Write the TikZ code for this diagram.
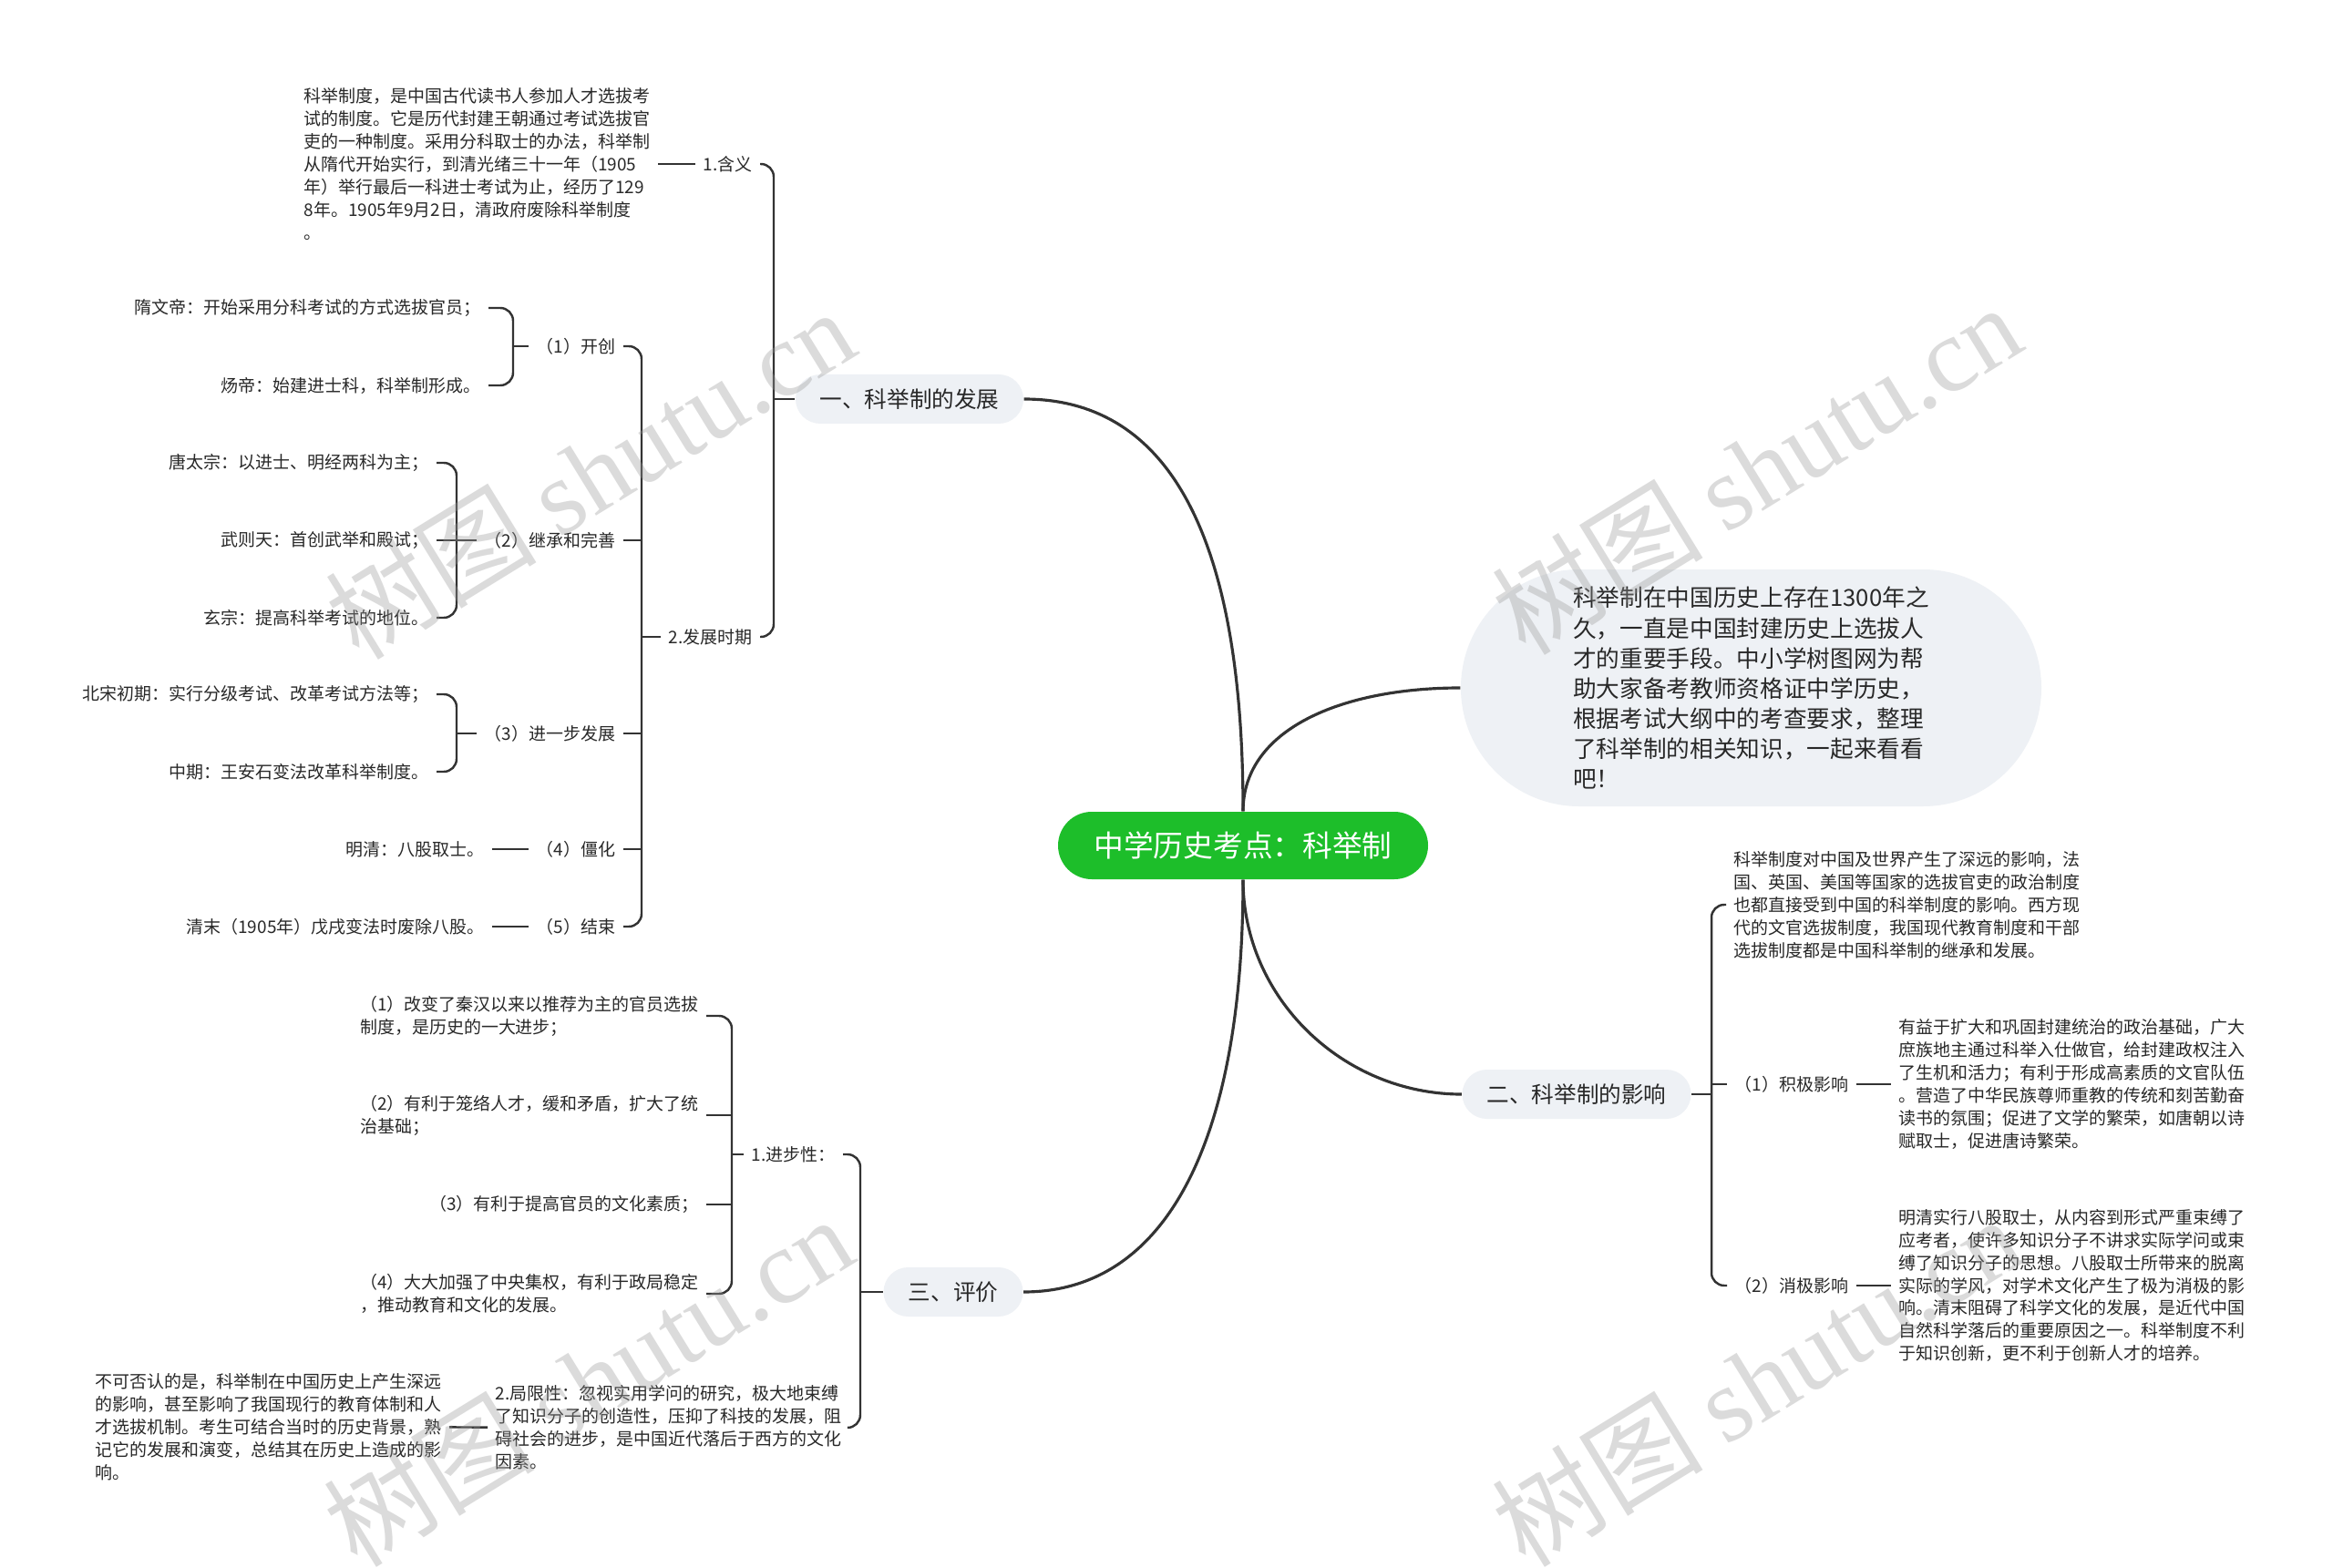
\documentclass[tikz,border=0pt]{standalone}
\usepackage{fontspec}
\setmainfont{Noto Sans CJK SC}
\newfontfamily\wmfont{Liberation Serif}
\usepackage{tikz}
\usetikzlibrary{positioning,calc}
\usepackage{xcolor}
\definecolor{rootgreen}{RGB}{29, 190, 42}
\definecolor{branchgray}{RGB}{238, 241, 245}
\definecolor{linegray}{RGB}{51, 51, 51}
\definecolor{textgray}{RGB}{40, 40, 40}

\tikzset{
    root/.style={fill=rootgreen, text=white, rounded corners=0.37cm, minimum width=4.06cm, minimum height=0.74cm, font=\fontsize{9.3}{11}\selectfont},
    branch/.style={fill=branchgray, text=textgray, rounded corners=0.27cm, minimum height=0.54cm, font=\fontsize{7}{8.5}\selectfont},
    summary/.style={fill=branchgray, text=textgray, rounded corners=1.3cm, minimum width=6.37cm, minimum height=2.6cm, align=left, font=\fontsize{7.3}{9.4}\selectfont},
    leaf/.style={text=textgray, align=left, inner sep=0.08cm, font=\fontsize{5.4}{7.1}\selectfont},
    trunk/.style={draw=linegray, line width=0.9pt},
    brk/.style={draw=linegray, line width=0.7pt, rounded corners=4pt},
    wm/.style={text=black!40, text opacity=0.35, rotate=31.6, font=\fontsize{33}{33}\selectfont}
}

\begin{document}
\begin{tikzpicture}
    % page
    \fill[white] (0,0) rectangle (25.6,-17.21);
    \useasboundingbox (0,0) rectangle (25.6,-17.21);

    % centre and main branches
    \node[root] (root) at (13.64,-9.28) {中学历史考点：科举制};
    \node[branch, minimum width=2.50cm] (b1) at (9.98,-4.38) {一、科举制的发展};
    \node[branch, minimum width=2.51cm] (b2) at (17.30,-12.01) {二、科举制的影响};
    \node[branch, minimum width=1.53cm] (b3) at (10.46,-14.18) {三、评价};
    \node[summary] (sum) at (19.215,-7.55) {科举制在中国历史上存在1300年之\\久，一直是中国封建历史上选拔人\\才的重要手段。中小学树图网为帮\\助大家备考教师资格证中学历史，\\根据考试大纲中的考查要求，整理\\了科举制的相关知识，一起来看看\\吧！};

    \draw[trunk] (root.north) .. controls +(0,3.0) and +(1.6,0) .. (b1.east);
    \draw[trunk] (root.north) .. controls +(0,0.9) and +(-1.3,0) .. (sum.west);
    \draw[trunk] (root.south) .. controls +(0,-1.3) and +(-1.3,0) .. (b2.west);
    \draw[trunk] (root.south) .. controls +(0,-2.8) and +(1.6,0) .. (b3.east);

    % 一 : 1.含义 and 2.发展时期
    \node[leaf, anchor=east] (h1) at (8.34,-1.80) {1.含义};
    \node[leaf, anchor=east] (h2) at (8.34,-6.99) {2.发展时期};
    \coordinate (k1) at (8.49,-4.38);
    \draw[brk] (h1.east) -| (k1) |- (h2.east);
    \draw[brk] (k1) -- (b1.west);

    \node[leaf, anchor=east] (t0) at (7.22,-1.80) {科举制度，是中国古代读书人参加人才选拔考\\试的制度。它是历代封建王朝通过考试选拔官\\吏的一种制度。采用分科取士的办法，科举制\\从隋代开始实行，到清光绪三十一年（1905\\年）举行最后一科进士考试为止，经历了129\\8年。1905年9月2日，清政府废除科举制度\\。};
    \draw[brk] (t0) -- (h1);

    % 2.发展时期 : five stages
    \node[leaf, anchor=east] (p1) at (6.84,-3.80) {（1）开创};
    \node[leaf, anchor=east] (p2) at (6.84,-5.93) {（2）继承和完善};
    \node[leaf, anchor=east] (p3) at (6.84,-8.05) {（3）进一步发展};
    \node[leaf, anchor=east] (p4) at (6.84,-9.32) {（4）僵化};
    \node[leaf, anchor=east] (p5) at (6.84,-10.17) {（5）结束};
    \coordinate (k2) at (7.04,-6.99);
    \draw[brk] (p1.east) -| (k2) |- (p5.east);
    \draw[brk] (p2.east) -- (p2.east -| k2);
    \draw[brk] (p3.east) -- (p3.east -| k2);
    \draw[brk] (p4.east) -- (p4.east -| k2);
    \draw[brk] (k2) -- (h2.west);

    % (1) 开创
    \node[leaf, anchor=east] (a1) at (5.36,-3.38) {隋文帝：开始采用分科考试的方式选拔官员；};
    \node[leaf, anchor=east] (a2) at (5.36,-4.23) {炀帝：始建进士科，科举制形成。};
    \coordinate (k3) at (5.63,-3.80);
    \draw[brk] (a1.east) -| (k3) |- (a2.east);
    \draw[brk] (k3) -- (p1.west);

    % (2) 继承和完善
    \node[leaf, anchor=east] (a3) at (4.79,-5.08) {唐太宗：以进士、明经两科为主；};
    \node[leaf, anchor=east] (a4) at (4.79,-5.93) {武则天：首创武举和殿试；};
    \node[leaf, anchor=east] (a5) at (4.79,-6.78) {玄宗：提高科举考试的地位。};
    \coordinate (k4) at (5.01,-5.93);
    \draw[brk] (a3.east) -| (k4) |- (a5.east);
    \draw[brk] (a4.east) -- (p2.west);

    % (3) 进一步发展
    \node[leaf, anchor=east] (a6) at (4.79,-7.62) {北宋初期：实行分级考试、改革考试方法等；};
    \node[leaf, anchor=east] (a7) at (4.79,-8.47) {中期：王安石变法改革科举制度。};
    \coordinate (k5) at (5.01,-8.05);
    \draw[brk] (a6.east) -| (k5) |- (a7.east);
    \draw[brk] (k5) -- (p3.west);

    % (4) 僵化 and (5) 结束
    \node[leaf, anchor=east] (a8) at (5.40,-9.32) {明清：八股取士。};
    \node[leaf, anchor=east] (a9) at (5.40,-10.17) {清末（1905年）戊戌变法时废除八股。};
    \draw[brk] (a8) -- (p4);
    \draw[brk] (a9) -- (p5);

    % 三 : 评价
    \node[leaf, anchor=east] (j1) at (9.25,-12.67) {1.进步性：};
    \node[leaf, anchor=east] (j2) at (9.32,-15.67) {2.局限性：忽视实用学问的研究，极大地束缚\\了知识分子的创造性，压抑了科技的发展，阻\\碍社会的进步，是中国近代落后于西方的文化\\因素。};
    \coordinate (k6) at (9.44,-14.18);
    \draw[brk] (j1.east) -| (k6) |- (j2.east);
    \draw[brk] (k6) -- (b3.west);

    \node[leaf, anchor=east] (e1) at (7.75,-11.15) {（1）改变了秦汉以来以推荐为主的官员选拔\\制度，是历史的一大进步；};
    \node[leaf, anchor=east] (e2) at (7.75,-12.24) {（2）有利于笼络人才，缓和矛盾，扩大了统\\治基础；};
    \node[leaf, anchor=east] (e3) at (7.75,-13.22) {（3）有利于提高官员的文化素质；};
    \node[leaf, anchor=east] (e4) at (7.75,-14.20) {（4）大大加强了中央集权，有利于政局稳定\\，推动教育和文化的发展。};
    \coordinate (k7) at (8.03,-12.67);
    \draw[brk] (e1.east) -| (k7) |- (e4.east);
    \draw[brk] (e2.east) -- (e2.east -| k7);
    \draw[brk] (e3.east) -- (e3.east -| k7);
    \draw[brk] (k7) -- (j1.west);

    \node[leaf, anchor=east] (n1) at (4.93,-15.66) {不可否认的是，科举制在中国历史上产生深远\\的影响，甚至影响了我国现行的教育体制和人\\才选拔机制。考生可结合当时的历史背景，熟\\记它的发展和演变，总结其在历史上造成的影\\响。};
    \draw[brk] (n1) -- (j2);

    % 二 : 科举制的影响
    \node[leaf, anchor=west] (r0) at (18.94,-9.93) {科举制度对中国及世界产生了深远的影响，法\\国、英国、美国等国家的选拔官吏的政治制度\\也都直接受到中国的科举制度的影响。西方现\\代的文官选拔制度，我国现代教育制度和干部\\选拔制度都是中国科举制的继承和发展。};
    \node[leaf, anchor=west] (r1) at (18.95,-11.90) {（1）积极影响};
    \node[leaf, anchor=west] (r2) at (18.95,-14.11) {（2）消极影响};
    \coordinate (k8) at (18.78,-12.01);
    \draw[brk] (r0.west) -| (k8) |- (r2.west);
    \draw[brk] (r1.west) -- (r1.west -| k8);
    \draw[brk] (k8) -- (b2.east);

    \node[leaf, anchor=west] (s1) at (20.75,-11.90) {有益于扩大和巩固封建统治的政治基础，广大\\庶族地主通过科举入仕做官，给封建政权注入\\了生机和活力；有利于形成高素质的文官队伍\\。营造了中华民族尊师重教的传统和刻苦勤奋\\读书的氛围；促进了文学的繁荣，如唐朝以诗\\赋取士，促进唐诗繁荣。};
    \node[leaf, anchor=west] (s2) at (20.75,-14.11) {明清实行八股取士，从内容到形式严重束缚了\\应考者，使许多知识分子不讲求实际学问或束\\缚了知识分子的思想。八股取士所带来的脱离\\实际的学风，对学术文化产生了极为消极的影\\响。清末阻碍了科学文化的发展，是近代中国\\自然科学落后的重要原因之一。科举制度不利\\于知识创新，更不利于创新人才的培养。};
    \draw[brk] (r1) -- (s1);
    \draw[brk] (r2) -- (s2);

    % watermarks
    \node[wm] (w1) at (6.47,-5.19) {树图 {\wmfont shutu.cn}};
    \node[wm] (w2) at (19.27,-5.14) {树图 {\wmfont shutu.cn}};
    \node[wm] (w3) at (6.45,-15.15) {树图 {\wmfont shutu.cn}};
    \node[wm] (w4) at (19.27,-15.15) {树图 {\wmfont shutu.cn}};

\end{tikzpicture}
\end{document}
